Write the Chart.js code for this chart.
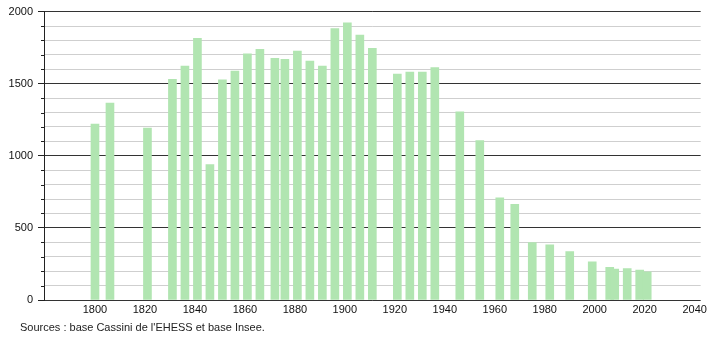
<!DOCTYPE html>
<html>
<head>
<meta charset="utf-8">
<script src="https://cdn.jsdelivr.net/npm/chart.js@4"></script>
<style>
  body { margin: 0; background: #fff; }
  #wrap { position: relative; width: 710px; height: 340px; }
  #src { position: absolute; left: 20px; top: 321px; font: 11px "Liberation Sans", Arial, sans-serif; color: #222; }
</style>
</head>
<body>
<div id="wrap">
  <canvas id="popChart" width="710" height="340"></canvas>
  <div id="src">Sources : base Cassini de l'EHESS et base Insee.</div>
</div>
<script>
// census years and population
const years = [1800, 1806, 1821, 1831, 1836, 1841, 1846, 1851, 1856, 1861, 1866, 1872, 1876,
  1881, 1886, 1891, 1896, 1901, 1906, 1911, 1921, 1926, 1931, 1936, 1946, 1954, 1962, 1968,
  1975, 1982, 1990, 1999, 2006, 2008, 2013, 2018, 2021];
const population = [1220, 1365, 1193, 1531, 1623, 1814, 939, 1526, 1588, 1708, 1738, 1676, 1669,
  1727, 1657, 1623, 1883, 1922, 1837, 1745, 1566, 1581, 1581, 1612, 1305, 1105, 709, 663,
  398, 382, 336, 265, 226, 214, 218, 207, 196];
const yTickLabels = [0, 500, 1000, 1500, 2000];
const xTickLabels = [1800, 1820, 1840, 1860, 1880, 1900, 1920, 1940, 1960, 1980, 2000, 2020, 2040];

const points = years.map((y, i) => ({ x: y, y: population[i] }));

// small minor ticks on the y axis
const minorTicks = {
  id: 'minorTicks',
  afterDraw(c) {
    const ctx = c.ctx, ys = c.scales.y;
    ctx.save();
    ctx.strokeStyle = '#222';
    ctx.lineWidth = 1;
    for (let v = 0; v <= 2000; v += 100) {
      if (yTickLabels.includes(v)) continue;
      const p = Math.round(ys.getPixelForValue(v)) + 0.5;
      ctx.beginPath();
      ctx.moveTo(ys.right - 3, p);
      ctx.lineTo(ys.right, p);
      ctx.stroke();
    }
    ctx.restore();
  }
};

const chart = new Chart(document.getElementById('popChart').getContext('2d'), {
  type: 'bar',
  data: {
    datasets: [{
      data: points,
      backgroundColor: '#b1e5b1',
      borderWidth: 0,
      barThickness: 8
    }]
  },
  options: {
    responsive: false,
    animation: false,
    layout: { padding: { top: 10, right: 9, bottom: 22, left: 0 } },
    plugins: { legend: { display: false }, tooltip: { enabled: false } },
    scales: {
      x: {
        type: 'linear',
        offset: false,
        min: 1779.6,
        max: 2042.4,
        afterFit(s) { s.height = 18; },
        grid: { display: false, drawTicks: false, tickLength: 0 },
        border: { display: false },
        ticks: {
          includeBounds: false,
          stepSize: 20,
          autoSkip: false,
          maxRotation: 0,
          padding: 3,
          color: '#111',
          font: { family: 'Liberation Sans', size: 11 },
          callback: v => xTickLabels.includes(v) ? String(v) : ''
        }
      },
      y: {
        min: 0,
        max: 2000,
        afterFit(s) { s.width = 44; },
        border: { display: true, color: '#222', width: 1 },
        grid: {
          tickLength: 6,
          color: ctx => ctx.tick && ctx.tick.value % 500 === 0 ? '#333' : '#cfcfcf',
          tickColor: ctx => ctx.tick && ctx.tick.value % 500 === 0 ? '#222' : 'rgba(0,0,0,0)'
        },
        ticks: {
          stepSize: 100,
          autoSkip: false,
          padding: 5,
          color: '#111',
          font: { family: 'Liberation Sans', size: 11 },
          callback: v => yTickLabels.includes(v) ? String(v) : ''
        }
      }
    }
  },
  plugins: [minorTicks]
});
</script>
</body>
</html>
